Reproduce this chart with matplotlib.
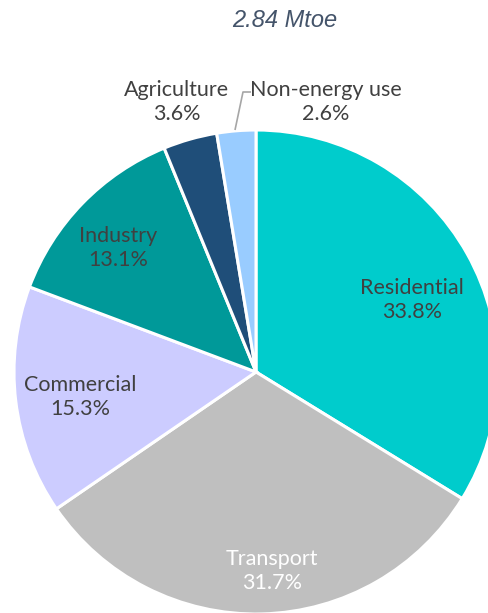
import matplotlib.pyplot as plt

# Final energy consumption by sector (share of 2.84 Mtoe)
sectors = ['Residential', 'Transport', 'Commercial', 'Industry', 'Agriculture', 'Non-energy use']
shares = [33.8, 31.7, 15.3, 13.1, 3.6, 2.6]
colors = ['#00CCCC', '#BFBFBF', '#CCCCFF', '#009999', '#1F4E79', '#99CCFF']
text_colors = ['#404040', '#FFFFFF', '#404040', '#404040', '#404040', '#404040']

W, H = 489, 613
fig = plt.figure(figsize=(W / 100, H / 100), dpi=100)
ax = fig.add_axes([0, 0, 1, 1])

# work in pixel units (y up)
cx, cy, r = 256, H - 372, 242
ax.pie(shares, colors=colors, startangle=90, counterclock=False,
       center=(cx, cy), radius=r, frame=True,
       wedgeprops=dict(edgecolor='white', linewidth=2.2))
ax.set_xlim(0, W)
ax.set_ylim(0, H)
ax.set_aspect('equal')
ax.axis('off')

# label positions (pixel coords, top-left origin)
label_pos = [(412, 300), (272, 571), (80, 397), (118, 248), (177, 102), (326, 102)]
for name, val, (px, py), tc in zip(sectors, shares, label_pos, text_colors):
    ax.text(px, H - py, f'{name}\n{val:.1f}%', ha='center', va='center',
            color=tc, fontsize=15.5, family='Lato', linespacing=1.3)

# leader line for Non-energy use
ax.plot([235, 243, 251], [H - 130, H - 92, H - 92], color='#A6A6A6', lw=1.2,
        solid_capstyle='butt')

ax.text(285, H - 20, '2.84 Mtoe', ha='center', va='center', color='#44546A',
        fontsize=17, style='italic', family='Liberation Sans')

fig.savefig('out.png', dpi=100)
